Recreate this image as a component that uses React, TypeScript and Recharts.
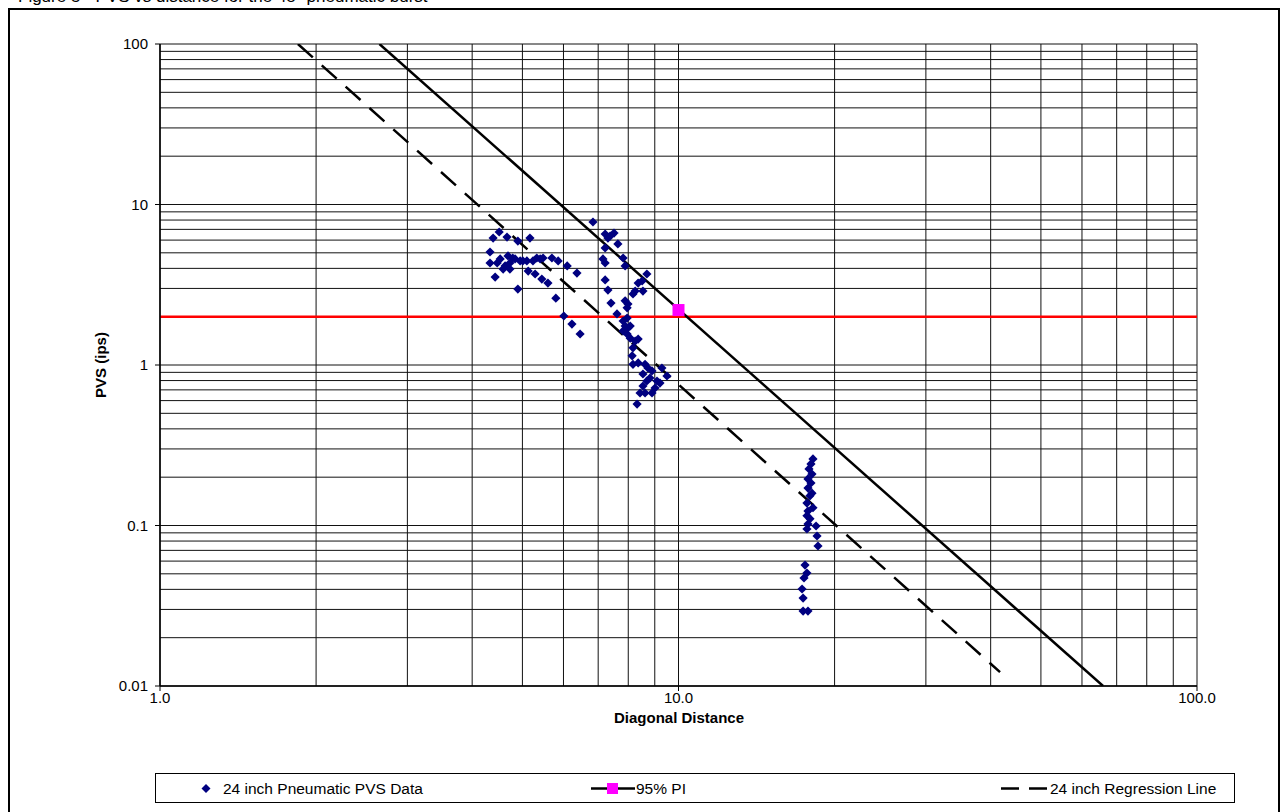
import React from 'react';
import { ComposedChart, XAxis, YAxis, CartesianGrid, Scatter, ReferenceLine } from 'recharts';

// 24 inch pneumatic PVS data: diagonal distance (x) and PVS in ips (y)
const pneumaticDistance = [
  4.51, 4.39, 4.67, 4.90, 5.17, 4.33, 4.33, 4.43, 4.69, 4.63, 4.59, 4.79, 4.95, 5.10, 5.13, 5.29,
  5.41, 5.48, 5.70, 5.86, 5.45, 5.60, 6.10, 6.37, 4.90, 5.80, 6.01, 6.23, 6.46, 5.33, 5.24, 5.01,
  4.73, 4.84, 4.53, 4.47, 4.73,
  6.84, 7.22, 7.38, 7.51, 7.31, 7.64, 7.22, 7.15, 7.22, 7.82, 7.89, 8.69, 8.51, 8.36, 8.25, 8.17,
  8.54, 7.22, 7.31, 7.41, 7.89, 7.99, 7.96, 7.61, 7.82, 7.96, 7.89, 7.99, 7.96, 8.07, 8.25, 8.36,
  8.17, 8.14, 8.17, 8.36, 8.62, 8.73, 8.89, 9.29, 9.50, 8.54, 8.69, 8.54, 8.43, 8.62, 8.89, 9.01,
  9.09, 8.32, 8.81, 9.21, 8.07, 7.82,
  18.17, 18.01, 17.85, 18.09, 17.77, 18.01, 17.77, 18.09, 17.93, 17.69, 18.17, 17.77, 17.69, 17.93,
  17.77, 17.69, 18.42, 18.50, 18.58, 17.54, 17.69, 17.46, 17.31, 17.39, 17.39, 17.77,
];
const pneumaticPVS = [
  6.74, 6.18, 6.27, 5.92, 6.18, 5.06, 4.32, 3.53, 4.78, 4.14, 3.96, 4.64, 4.45, 4.45, 3.85, 3.69,
  4.58, 4.64, 4.64, 4.45, 3.43, 3.24, 4.14, 3.74, 2.97, 2.61, 2.02, 1.80, 1.56, 4.64, 4.45, 4.45,
  4.32, 4.58, 4.58, 4.32, 3.96,
  7.78, 6.55, 6.36, 6.64, 6.18, 5.68, 5.36, 4.58, 4.32, 4.64, 4.14, 3.69, 3.34, 3.24, 2.89, 2.77,
  2.89, 3.39, 2.93, 2.43, 2.51, 2.40, 2.27, 2.08, 1.88, 1.96, 1.75, 1.70, 1.56, 1.47, 1.41, 1.45,
  1.28, 1.14, 1.01, 1.03, 1.01, 0.958, 0.918, 0.958, 0.854, 0.879, 0.795, 0.740, 0.669, 0.669, 0.669, 0.719,
  0.795, 0.571, 0.830, 0.772, 1.75, 1.63,
  0.260, 0.242, 0.225, 0.209, 0.195, 0.184, 0.171, 0.159, 0.153, 0.138, 0.129, 0.123, 0.115, 0.110,
  0.102, 0.0951, 0.0993, 0.0860, 0.0745, 0.0567, 0.0506, 0.0471, 0.0402, 0.0353, 0.0293, 0.0293,
];

// 95% prediction interval line and its marker
const piLineX = [2.65, 65.9];
const piLineY = [100, 0.01];
const piMarkerX = [10];
const piMarkerY = [2.2];

// 24 inch regression line
const regLineX = [1.845, 41.7];
const regLineY = [100, 0.0122];

// limit line
const limitPVS = 2;

// axes
const xGridTicks = [1, 2, 3, 4, 5, 6, 7, 8, 9, 10, 20, 30, 40, 50, 60, 70, 80, 90, 100];
const yGridTicks = [
  0.01, 0.02, 0.03, 0.04, 0.05, 0.06, 0.07, 0.08, 0.09,
  0.1, 0.2, 0.3, 0.4, 0.5, 0.6, 0.7, 0.8, 0.9,
  1, 2, 3, 4, 5, 6, 7, 8, 9,
  10, 20, 30, 40, 50, 60, 70, 80, 90, 100,
];
const xMajorLabels: Record<number, string> = { 1: '1.0', 10: '10.0', 100: '100.0' };
const yMajorLabels: Record<number, string> = { 0.01: '0.01', 0.1: '0.1', 1: '1', 10: '10', 100: '100' };

const titleText = 'Figure 5 - PVS vs distance for the 48" pneumatic burst';
const xTitle = 'Diagonal Distance';
const yTitle = 'PVS (ips)';
const legendLabels = ['24 inch Pneumatic PVS Data', '95% PI', '24 inch Regression Line'];

const zip = (xs: number[], ys: number[]) => xs.map((x, i) => ({ x, y: ys[i] }));
const pneumaticData = zip(pneumaticDistance, pneumaticPVS);
const piLineData = zip(piLineX, piLineY);
const piMarkerData = zip(piMarkerX, piMarkerY);
const regLineData = zip(regLineX, regLineY);

const FONT = '"Liberation Sans", Arial, sans-serif';
const NAVY = '#000080';

const Diamond = (props: any) => {
  const { cx, cy } = props;
  if (cx == null || cy == null) return <g />;
  const r = 4.6;
  return <polygon points={`${cx},${cy - r} ${cx + r},${cy} ${cx},${cy + r} ${cx - r},${cy}`} fill={NAVY} />;
};

const Square = (props: any) => {
  const { cx, cy } = props;
  if (cx == null || cy == null) return <g />;
  return <rect x={cx - 6} y={cy - 6} width={12} height={12} fill="#FF00FF" />;
};

const NoShape = () => <g />;

const YTick = (props: any) => {
  const { x, y, payload } = props;
  const label = yMajorLabels[payload.value];
  if (label === undefined) return <g />;
  return (
    <g>
      <line x1={x - 5} x2={x} y1={y} y2={y} stroke="#000" strokeWidth={1} />
      <text x={x - 12} y={y} dy="0.36em" textAnchor="end" fontSize={15} fontFamily={FONT} fill="#000">
        {label}
      </text>
    </g>
  );
};

const XTick = (props: any) => {
  const { x, y, payload } = props;
  const label = xMajorLabels[payload.value];
  if (label === undefined) return <g />;
  return (
    <g>
      <line x1={x} x2={x} y1={y} y2={y + 5} stroke="#000" strokeWidth={1} />
      <text x={x} y={y + 17} textAnchor="middle" fontSize={15} fontFamily={FONT} fill="#000">
        {label}
      </text>
    </g>
  );
};

export default function App() {
  return (
    <div
      style={{
        position: 'absolute',
        left: 0,
        top: 0,
        width: 1283,
        height: 812,
        background: '#fff',
        overflow: 'hidden',
        fontFamily: FONT,
      }}
    >
      <div
        style={{
          position: 'absolute',
          left: 18,
          top: -13,
          fontSize: 17,
          whiteSpace: 'nowrap',
          color: '#000',
        }}
      >
        {titleText}
      </div>
      <div
        style={{
          position: 'absolute',
          left: 8,
          top: 8,
          width: 1268,
          height: 830,
          border: '2px solid #000',
        }}
      />
      <div style={{ position: 'absolute', left: 0, top: 0 }}>
        <ComposedChart width={1283} height={812} margin={{ top: 44, right: 86, bottom: 86, left: 100 }}>
          <CartesianGrid stroke="#111" strokeWidth={1} fill="none" />
          <XAxis
            dataKey="x"
            type="number"
            scale="log"
            domain={[1, 100]}
            ticks={xGridTicks}
            interval={0}
            allowDataOverflow
            height={40}
            tickSize={0}
            tickMargin={0}
            tick={<XTick />}
            axisLine={{ stroke: '#000', strokeWidth: 1.5 }}
            tickLine={false}
          />
          <YAxis
            dataKey="y"
            type="number"
            scale="log"
            domain={[0.01, 100]}
            ticks={yGridTicks}
            interval={0}
            allowDataOverflow
            width={60}
            tickSize={0}
            tickMargin={0}
            tick={<YTick />}
            axisLine={{ stroke: '#000', strokeWidth: 1.5 }}
            tickLine={false}
          />
          <Scatter
            data={regLineData}
            shape={<NoShape />}
            line={{ stroke: '#000', strokeWidth: 2.5, strokeDasharray: '20 12' }}
            isAnimationActive={false}
          />
          <Scatter
            data={piLineData}
            shape={<NoShape />}
            line={{ stroke: '#000', strokeWidth: 2.5 }}
            isAnimationActive={false}
          />
          <Scatter data={pneumaticData} shape={<Diamond />} isAnimationActive={false} />
          <ReferenceLine y={limitPVS} stroke="#FF0000" strokeWidth={2.5} ifOverflow="extendDomain" />
          <Scatter data={piMarkerData} shape={<Square />} isAnimationActive={false} />
        </ComposedChart>
      </div>
      <div
        style={{
          position: 'absolute',
          left: 679,
          top: 717,
          fontSize: 15,
          fontWeight: 'bold',
          whiteSpace: 'nowrap',
          transform: 'translate(-50%, -50%)',
        }}
      >
        {xTitle}
      </div>
      <div
        style={{
          position: 'absolute',
          left: 100,
          top: 365,
          fontSize: 15,
          fontWeight: 'bold',
          whiteSpace: 'nowrap',
          transform: 'translate(-50%, -50%) rotate(-90deg)',
          transformOrigin: 'center',
        }}
      >
        {yTitle}
      </div>
      <div
        style={{
          position: 'absolute',
          left: 155,
          top: 773,
          width: 1078,
          height: 28,
          border: '1px solid #000',
        }}
      >
        <svg width={1078} height={28} style={{ position: 'absolute', left: 0, top: 0 }}>
          <polygon points="50,10 54.5,14.5 50,19 45.5,14.5" fill={NAVY} />
          <text x={67} y={20} fontSize={15.5} fontFamily={FONT}>{legendLabels[0]}</text>
          <line x1={435} x2={479} y1={14.5} y2={14.5} stroke="#000" strokeWidth={2.5} />
          <rect x={451} y={9} width={11} height={11} fill="#FF00FF" />
          <text x={480} y={20} fontSize={15.5} fontFamily={FONT}>{legendLabels[1]}</text>
          <line x1={845} x2={893} y1={14.5} y2={14.5} stroke="#000" strokeWidth={2.5} strokeDasharray="18 10" />
          <text x={894} y={20} fontSize={15.5} fontFamily={FONT}>{legendLabels[2]}</text>
        </svg>
      </div>
    </div>
  );
}
